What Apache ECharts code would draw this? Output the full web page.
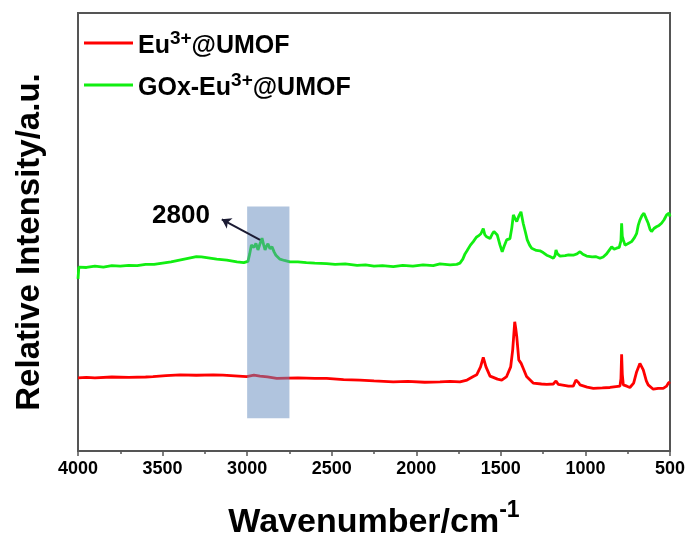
<!DOCTYPE html>
<html>
<head>
<meta charset="utf-8">
<script src="https://cdn.jsdelivr.net/npm/echarts/dist/echarts.min.js"></script>
<style>
  html, body { margin: 0; padding: 0; background: #fff; }
  #chart { width: 689px; height: 547px; }
</style>
</head>
<body>
<div id="chart"></div>
<script>
// FTIR spectra: wavenumber (cm^-1) vs. relative intensity (arbitrary units, offset traces)
const seriesNames = ['Eu3+@UMOF', 'GOx-Eu3+@UMOF'];
const xTicks = [4000, 3500, 3000, 2500, 2000, 1500, 1000, 500];

const euUmof = [
  [4000, 16.7], [3950, 16.8], [3900, 16.7], [3800, 16.9], [3700, 16.8], [3600, 16.9],
  [3557, 17.0], [3480, 17.2], [3397, 17.4], [3300, 17.3], [3200, 17.4], [3143, 17.3],
  [3050, 17.1], [3003, 17.0], [2960, 17.3], [2924, 17.1], [2880, 16.9], [2825, 16.6],
  [2700, 16.7], [2600, 16.6], [2530, 16.6], [2430, 16.3], [2333, 16.2], [2250, 16.0],
  [2136, 15.8], [2050, 15.9], [1950, 15.7], [1860, 15.8], [1800, 15.9], [1742, 15.8],
  [1700, 16.2], [1663, 17.0], [1643, 17.4], [1620, 19.2], [1604, 21.4], [1588, 19.2],
  [1564, 17.1], [1545, 16.8], [1520, 16.4], [1495, 16.2], [1466, 17.0], [1442, 19.2],
  [1430, 23.1], [1418, 29.5], [1412, 28.0], [1406, 26.1], [1394, 20.8], [1380, 20.0],
  [1368, 18.9], [1348, 17.0], [1309, 15.5], [1260, 15.3], [1229, 15.2], [1190, 15.3],
  [1174, 16.0], [1160, 15.2], [1150, 14.8], [1100, 14.8], [1072, 14.8], [1056, 16.2],
  [1040, 15.6], [1032, 15.1], [990, 14.6], [953, 14.3], [900, 14.4], [855, 14.5],
  [820, 14.7], [796, 14.8], [790, 16.5], [786, 22.1], [782, 17.5], [776, 15.1],
  [755, 14.8], [737, 14.5], [715, 15.5], [697, 18.1], [678, 20.0], [658, 18.5],
  [640, 16.0], [629, 15.1], [599, 14.1], [570, 14.3], [540, 14.3], [520, 14.8],
  [510, 15.5], [500, 15.8]
];

const goxEuUmof = [
  [4000, 39.3], [3995, 42.0], [3950, 41.9], [3900, 42.2], [3850, 42.0], [3800, 42.3],
  [3750, 42.2], [3700, 42.4], [3650, 42.3], [3600, 42.6], [3550, 42.6], [3500, 42.9],
  [3450, 43.2], [3400, 43.6], [3350, 44.0], [3300, 44.4], [3270, 44.3], [3230, 44.1],
  [3180, 43.8], [3120, 43.6], [3060, 43.2], [3020, 43.0], [2995, 43.3], [2985, 45.0],
  [2975, 47.0], [2960, 46.5], [2948, 47.4], [2936, 45.9], [2925, 47.2], [2912, 48.6],
  [2902, 47.0], [2894, 45.9], [2885, 46.8], [2877, 47.3], [2865, 46.2], [2853, 46.6],
  [2840, 45.4], [2830, 44.7], [2806, 43.8], [2780, 43.5], [2747, 43.2], [2700, 43.2],
  [2650, 43.0], [2600, 42.9], [2530, 42.8], [2480, 42.6], [2420, 42.7], [2350, 42.4],
  [2300, 42.5], [2250, 42.2], [2200, 42.3], [2136, 42.1], [2080, 42.4], [2020, 42.2],
  [1960, 42.5], [1900, 42.3], [1860, 42.7], [1800, 42.5], [1761, 42.6], [1742, 42.9],
  [1725, 43.8], [1712, 45.0], [1702, 45.6], [1680, 47.0], [1663, 47.8], [1645, 48.8],
  [1633, 49.1], [1618, 49.6], [1604, 50.8], [1595, 49.4], [1584, 48.9], [1564, 48.5],
  [1550, 49.6], [1541, 50.1], [1521, 49.3], [1505, 47.0], [1492, 45.5], [1480, 46.8],
  [1466, 48.2], [1446, 48.5], [1435, 51.0], [1426, 53.9], [1415, 53.0], [1406, 52.4],
  [1392, 53.8], [1381, 54.6], [1368, 52.0], [1355, 50.0], [1344, 48.2], [1330, 47.0],
  [1318, 46.3], [1290, 45.8], [1269, 45.7], [1250, 45.3], [1229, 44.7], [1210, 44.4],
  [1190, 44.0], [1180, 44.6], [1174, 45.9], [1165, 45.0], [1150, 44.5], [1120, 44.6],
  [1100, 44.8], [1072, 44.7], [1050, 45.0], [1032, 45.5], [1015, 44.9], [993, 44.5],
  [960, 44.3], [940, 44.4], [914, 44.0], [895, 44.3], [875, 45.0], [860, 45.8],
  [845, 46.6], [830, 46.1], [816, 46.3], [800, 46.5], [790, 48.0], [786, 52.0],
  [782, 49.0], [776, 48.2], [766, 47.0], [750, 47.3], [727, 47.8], [710, 48.7],
  [697, 49.7], [688, 51.5], [678, 52.7], [665, 53.8], [654, 54.3], [640, 53.0],
  [629, 52.0], [618, 50.6], [609, 50.1], [595, 50.8], [580, 51.2], [565, 51.5],
  [550, 52.0], [535, 52.8], [520, 53.9], [506, 54.3], [500, 53.5]
];

// Highlighted C-H stretching band and its label
const bandRange = [3000, 2750];
const bandHeight = [7.5, 55.8];
const bandLabel = '2800';
const arrowFrom = [2924, 48.2];
const arrowTo = [3150, 52.9];
const labelAt = [3391, 53.7];

const FONT = 'Arial, "Liberation Sans", sans-serif';

function supName(name) {
  const parts = name.split('3+');
  return '{t|' + parts[0] + '}{sup|3+}{t|' + parts[1] + '}';
}

const chart = echarts.init(document.getElementById('chart'), null, { renderer: 'canvas' });

chart.setOption({
  animation: false,
  backgroundColor: '#ffffff',
  grid: {
    left: 78, right: 19, top: 13, bottom: 96,
    show: true, borderColor: '#555555', borderWidth: 2, backgroundColor: 'transparent'
  },
  legend: {
    orient: 'vertical',
    left: 79,
    top: 24,
    itemGap: 12,
    itemWidth: 49,
    itemHeight: 3,
    icon: 'rect',
    data: seriesNames,
    formatter: supName,
    textStyle: {
      rich: {
        t: { fontFamily: FONT, fontWeight: 'bold', fontSize: 25, color: '#000', padding: [7, 0, 0, 0] },
        sup: { fontFamily: FONT, fontWeight: 'bold', fontSize: 19, color: '#000', padding: [0, 0, 9, 0] }
      }
    }
  },
  xAxis: {
    type: 'value',
    inverse: true,
    min: 500,
    max: 4000,
    interval: 500,
    name: '{t|Wavenumber/cm}{sup|-1}',
    nameLocation: 'middle',
    nameGap: 47,
    nameTextStyle: {
      rich: {
        t: { fontFamily: FONT, fontWeight: 'bold', fontSize: 34, color: '#000', padding: [8, 0, 0, 0] },
        sup: { fontFamily: FONT, fontWeight: 'bold', fontSize: 23, color: '#000', padding: [0, 0, 16, 0] }
      }
    },
    axisLine: { show: true, lineStyle: { color: '#555555', width: 2 } },
    axisTick: { show: true, inside: false, length: 5, lineStyle: { color: '#555555', width: 1.5 } },
    minorTick: { show: true, splitNumber: 2, length: 3, lineStyle: { color: '#555555', width: 1.5 } },
    splitLine: { show: false },
    axisLabel: {
      margin: 9,
      fontFamily: FONT, fontWeight: 'bold', fontSize: 18, color: '#000',
      formatter: v => String(v)
    }
  },
  yAxis: {
    type: 'value',
    min: 0,
    max: 100,
    name: 'Relative Intensity/a.u.',
    nameLocation: 'middle',
    nameGap: 32,
    nameTextStyle: {
      fontFamily: FONT, fontWeight: 'bold', fontSize: 33, color: '#000',
      padding: [0, 20, 0, 0]
    },
    axisLine: { show: true, lineStyle: { color: '#555555', width: 2 } },
    axisTick: { show: false },
    axisLabel: { show: false },
    splitLine: { show: false }
  },
  series: [
    {
      name: seriesNames[0],
      type: 'line',
      data: euUmof,
      showSymbol: false,
      symbol: 'none',
      color: '#ff0000',
      lineStyle: { color: '#ff0000', width: 2.8 },
      z: 2
    },
    {
      name: seriesNames[1],
      type: 'line',
      data: goxEuUmof,
      showSymbol: false,
      symbol: 'none',
      color: '#11ee11',
      lineStyle: { color: '#11ee11', width: 2.8 },
      z: 2,
      markLine: {
        silent: true,
        z: 6,
        symbolSize: 9,
        lineStyle: { color: '#1b1b33', width: 2, type: 'solid' },
        label: { show: false },
        data: [[
          { coord: arrowFrom, symbol: 'none' },
          { coord: arrowTo, symbol: 'arrow' }
        ]]
      },
      markPoint: {
        silent: true,
        z: 6,
        symbol: 'circle',
        symbolSize: 0,
        label: {
          show: true,
          position: 'inside',
          formatter: bandLabel,
          fontFamily: FONT, fontWeight: 'bold', fontSize: 26, color: '#000'
        },
        data: [{ coord: labelAt }]
      }
    },
    {
      // translucent band drawn over the spectra
      name: 'band',
      type: 'custom',
      z: 4,
      silent: true,
      data: [[bandRange[0], bandHeight[0], bandRange[1], bandHeight[1]]],
      renderItem: function (params, api) {
        const p1 = api.coord([api.value(0), api.value(1)]);
        const p2 = api.coord([api.value(2), api.value(3)]);
        return {
          type: 'rect',
          shape: {
            x: Math.min(p1[0], p2[0]),
            y: Math.min(p1[1], p2[1]),
            width: Math.abs(p2[0] - p1[0]),
            height: Math.abs(p2[1] - p1[1])
          },
          style: { fill: 'rgba(97,137,189,0.5)' }
        };
      }
    }
  ]
});
</script>
</body>
</html>
